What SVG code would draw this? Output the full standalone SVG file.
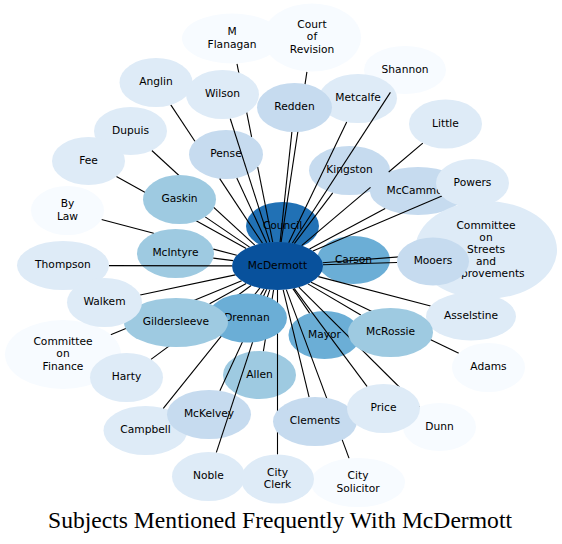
<svg xmlns="http://www.w3.org/2000/svg" width="562" height="544" viewBox="0 0 562 544">
<style>
.c1{fill:#f7fbff}.c2{fill:#deebf7}.c3{fill:#c6dbef}.c4{fill:#9ecae1}.c5{fill:#6baed6}.c7{fill:#2171b5}.c8{fill:#08519c}
text{font-family:"DejaVu Sans","Liberation Sans",sans-serif;font-size:10.67px;text-anchor:middle;fill:#000}
#connectors line{stroke:#000;stroke-width:1.1;fill:none}
.title{font-family:"Liberation Serif","DejaVu Serif",serif;font-size:22.5px}
</style>
<rect width="562" height="544" fill="#fff"/>
<!-- nodes beneath connectors -->
<g id="n-shannon"><ellipse class="c1" cx="405" cy="70" rx="41" ry="24"/><text x="405" y="72.9">Shannon</text></g>
<g id="n-metcalfe"><ellipse class="c2" cx="358" cy="98.5" rx="39" ry="24.5"/><text x="358" y="101.4">Metcalfe</text></g>
<g id="n-council"><ellipse class="c7" cx="282.5" cy="226" rx="36.5" ry="24"/><text x="282.5" y="228.9">Council</text></g>
<g id="n-pense"><ellipse class="c3" cx="226" cy="154.5" rx="37" ry="24.5"/><text x="226" y="157.4">Pense</text></g>
<g id="n-kingston"><ellipse class="c3" cx="349.5" cy="170.5" rx="40.5" ry="24.5"/><text x="349.5" y="173.4">Kingston</text></g>
<g id="n-mccammon"><ellipse class="c3" cx="418" cy="191" rx="48" ry="24"/><text x="418" y="193.9">McCammon</text></g>
<g id="n-streets"><ellipse class="c2" cx="486" cy="250" rx="71" ry="49"/><text x="486" y="228.9">Committee</text><text x="486" y="241">on</text><text x="486" y="253.1">Streets</text><text x="486" y="265.2">and</text><text x="486" y="277.3">Improvements</text></g>
<g id="n-carson"><ellipse class="c5" cx="353.5" cy="260" rx="36.5" ry="24"/><text x="353.5" y="262.9">Carson</text></g>
<g id="n-mcintyre"><ellipse class="c4" cx="175.5" cy="253.5" rx="38.5" ry="24.5"/><text x="175.5" y="256.4">McIntyre</text></g>
<g id="n-mayor"><ellipse class="c5" cx="324.5" cy="335" rx="36" ry="24"/><text x="324.5" y="337.9">Mayor</text></g>
<g id="n-allen"><ellipse class="c4" cx="259.5" cy="375" rx="36.5" ry="24"/><text x="259.5" y="377.9">Allen</text></g>
<g id="n-campbell"><ellipse class="c2" cx="145.5" cy="430.5" rx="42" ry="24.5"/><text x="145.5" y="433.4">Campbell</text></g>
<g id="n-mckelvey"><ellipse class="c3" cx="209" cy="414.5" rx="42" ry="24.5"/><text x="209" y="417.4">McKelvey</text></g>
<!-- connectors -->
<g id="connectors">
<line x1="237.0" y1="63.9" x2="251.6" y2="136.8"/><line x1="257.7" y1="167.2" x2="272.7" y2="242.1"/>
<line x1="306.9" y1="71.8" x2="281.1" y2="242.1"/>
<line x1="170.8" y1="104.9" x2="194.9" y2="141.2"/><line x1="219.7" y1="178.6" x2="262.5" y2="243.3"/>
<line x1="230.2" y1="118.5" x2="269.9" y2="242.3"/>
<line x1="291.9" y1="131.9" x2="280.1" y2="242.0"/>
<line x1="346.7" y1="122.0" x2="288.7" y2="242.7"/>
<line x1="390.4" y1="92.4" x2="292.3" y2="243.3"/>
<line x1="151.8" y1="150.5" x2="254.8" y2="245.2"/>
<line x1="422.8" y1="143.2" x2="388.7" y2="172.0"/><line x1="370.5" y1="187.3" x2="301.6" y2="245.6"/>
<line x1="116.4" y1="176.5" x2="246.2" y2="248.6"/>
<line x1="236.8" y1="177.9" x2="266.7" y2="242.7"/>
<line x1="332.7" y1="192.8" x2="294.3" y2="243.7"/>
<line x1="385.2" y1="208.5" x2="309.5" y2="248.9"/>
<line x1="441.9" y1="196.0" x2="312.9" y2="250.9"/>
<line x1="205.2" y1="216.9" x2="249.6" y2="247.1"/>
<line x1="101.5" y1="219.5" x2="153.7" y2="233.3"/><line x1="213.4" y1="249.1" x2="236.8" y2="255.3"/>
<line x1="415.4" y1="255.6" x2="322.6" y2="262.7"/>
<line x1="213.3" y1="258.1" x2="233.2" y2="260.6"/>
<line x1="397.0" y1="262.5" x2="322.9" y2="264.7"/>
<line x1="109.0" y1="265.6" x2="232.0" y2="265.9"/>
<line x1="140.2" y1="295.0" x2="235.3" y2="274.9"/>
<line x1="209.6" y1="303.8" x2="246.2" y2="283.4"/>
<line x1="260.5" y1="294.9" x2="264.1" y2="288.9"/>
<line x1="430.6" y1="306.0" x2="318.3" y2="276.6"/>
<line x1="309.6" y1="313.1" x2="292.9" y2="288.6"/>
<line x1="360.8" y1="315.0" x2="307.9" y2="283.9"/>
<line x1="110.7" y1="334.8" x2="241.7" y2="280.8"/>
<line x1="458.8" y1="353.2" x2="311.1" y2="282.2"/>
<line x1="151.0" y1="359.4" x2="251.1" y2="285.5"/>
<line x1="263.4" y1="351.1" x2="273.6" y2="289.9"/>
<line x1="219.9" y1="390.8" x2="266.7" y2="289.3"/>
<line x1="163.3" y1="408.3" x2="259.8" y2="288.1"/>
<line x1="367.2" y1="386.6" x2="294.1" y2="288.3"/>
<line x1="309.1" y1="397.2" x2="283.2" y2="289.8"/>
<line x1="419.4" y1="407.0" x2="298.8" y2="287.2"/>
<line x1="216.3" y1="452.6" x2="269.8" y2="289.6"/>
<line x1="277.5" y1="454.5" x2="277.5" y2="290.0"/>
<line x1="349.1" y1="458.4" x2="286.3" y2="289.6"/>
</g>
<!-- nodes above connectors -->
<g id="n-mflanagan"><ellipse class="c1" cx="232" cy="38.5" rx="50" ry="25"/><text x="232" y="35.3">M</text><text x="232" y="47.5">Flanagan</text></g>
<g id="n-court"><ellipse class="c1" cx="312" cy="37.5" rx="49" ry="34"/><text x="312" y="28.3">Court</text><text x="312" y="40.4">of</text><text x="312" y="52.5">Revision</text></g>
<g id="n-anglin"><ellipse class="c2" cx="156" cy="82.5" rx="36.5" ry="24.5"/><text x="156" y="85.4">Anglin</text></g>
<g id="n-wilson"><ellipse class="c2" cx="222.5" cy="94.5" rx="36.5" ry="24.5"/><text x="222.5" y="97.4">Wilson</text></g>
<g id="n-redden"><ellipse class="c3" cx="294.5" cy="107.5" rx="37.5" ry="24.5"/><text x="294.5" y="110.4">Redden</text></g>
<g id="n-dupuis"><ellipse class="c2" cx="130.5" cy="131" rx="36.5" ry="24"/><text x="130.5" y="133.9">Dupuis</text></g>
<g id="n-fee"><ellipse class="c2" cx="88.5" cy="161" rx="36.5" ry="24"/><text x="88.5" y="163.9">Fee</text></g>
<g id="n-little"><ellipse class="c2" cx="445.5" cy="124" rx="36.5" ry="24.5"/><text x="445.5" y="126.9">Little</text></g>
<g id="n-gaskin"><ellipse class="c4" cx="179.5" cy="199.5" rx="36.5" ry="24.5"/><text x="179.5" y="202.4">Gaskin</text></g>
<g id="n-powers"><ellipse class="c2" cx="472.5" cy="183" rx="36.5" ry="24"/><text x="472.5" y="185.9">Powers</text></g>
<g id="n-bylaw"><ellipse class="c1" cx="67.5" cy="210.5" rx="36.5" ry="24.5"/><text x="67.5" y="207.3">By</text><text x="67.5" y="219.5">Law</text></g>
<g id="n-mooers"><ellipse class="c3" cx="433" cy="261.5" rx="36" ry="24"/><text x="433" y="264.4">Mooers</text></g>
<g id="n-thompson"><ellipse class="c2" cx="63" cy="265.5" rx="46" ry="24.5"/><text x="63" y="268.4">Thompson</text></g>
<g id="n-asselstine"><ellipse class="c2" cx="471" cy="316.5" rx="45" ry="24"/><text x="471" y="319.4">Asselstine</text></g>
<g id="n-drennan"><ellipse class="c5" cx="247" cy="318" rx="40" ry="24.5"/><text x="247" y="320.9">Drennan</text></g>
<g id="n-gildersleeve"><ellipse class="c4" cx="176" cy="322.5" rx="52" ry="24.5"/><text x="176" y="325.4">Gildersleeve</text></g>
<g id="n-finance"><ellipse class="c1" cx="63" cy="354.5" rx="58" ry="34.5"/><text x="63" y="345.3">Committee</text><text x="63" y="357.4">on</text><text x="63" y="369.5">Finance</text></g>
<g id="n-walkem"><ellipse class="c2" cx="104.5" cy="302.5" rx="37.5" ry="24.5"/><text x="104.5" y="305.4">Walkem</text></g>
<g id="n-harty"><ellipse class="c2" cx="126.5" cy="377.5" rx="36.5" ry="24.5"/><text x="126.5" y="380.4">Harty</text></g>
<g id="n-mcrossie"><ellipse class="c4" cx="390.5" cy="332.5" rx="42.5" ry="24.5"/><text x="390.5" y="335.4">McRossie</text></g>
<g id="n-adams"><ellipse class="c1" cx="488.5" cy="367.5" rx="36.5" ry="24.5"/><text x="488.5" y="370.4">Adams</text></g>
<g id="n-clements"><ellipse class="c3" cx="315" cy="421.5" rx="42" ry="24.5"/><text x="315" y="424.4">Clements</text></g>
<g id="n-dunn"><ellipse class="c1" cx="439.5" cy="427" rx="36.5" ry="24"/><text x="439.5" y="429.9">Dunn</text></g>
<g id="n-price"><ellipse class="c2" cx="383.5" cy="408.5" rx="36.5" ry="24.5"/><text x="383.5" y="411.4">Price</text></g>
<g id="n-noble"><ellipse class="c2" cx="208.5" cy="476.5" rx="36.5" ry="24.5"/><text x="208.5" y="479.4">Noble</text></g>
<g id="n-citysolicitor"><ellipse class="c1" cx="358" cy="482.5" rx="47" ry="24.5"/><text x="358" y="479.3">City</text><text x="358" y="491.5">Solicitor</text></g>
<g id="n-cityclerk"><ellipse class="c2" cx="277.5" cy="479" rx="36.5" ry="24.5"/><text x="277.5" y="475.8">City</text><text x="277.5" y="488">Clerk</text></g>
<g id="n-mcdermott"><ellipse class="c8" cx="277.5" cy="266" rx="45.5" ry="24"/><text x="277.5" y="268.9">McDermott</text></g>
<text class="title" x="280" y="527.5" textLength="464" lengthAdjust="spacingAndGlyphs">Subjects Mentioned Frequently With McDermott</text>
</svg>
